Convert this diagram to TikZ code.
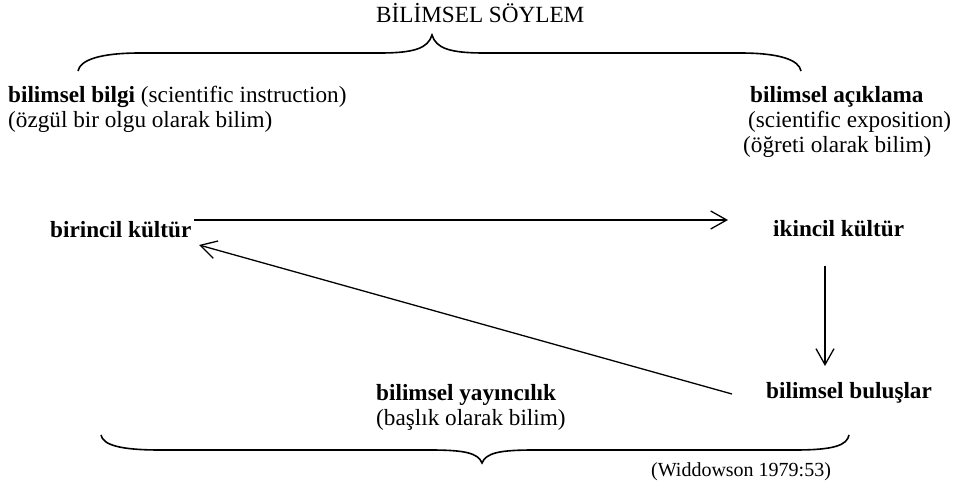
\documentclass[tikz,border=0pt]{standalone}
\usepackage{fontspec}
\setmainfont{Liberation Serif}
\usetikzlibrary{arrows.meta}
\begin{document}
\begin{tikzpicture}[x=1pt,y=-1pt,
  every node/.style={inner sep=0pt, anchor=base west, font=\fontsize{23.2}{25}\selectfont},
  conn/.style={line width=1.3pt, -{Straight Barb[length=16pt,width=18pt,line width=1.3pt]}},
  brace/.style={line width=1.6pt}]
\useasboundingbox (0,0) rectangle (956,486);

% title and its brace
\node (title) at (376,23) {BİLİMSEL SÖYLEM};
\draw[brace] (78,71) .. controls (80,60) and (100,53) .. (140,53)
  -- (380,53) .. controls (415,53) and (428,48) .. (432,35)
  .. controls (436,48) and (449,53) .. (484,53)
  -- (740,53) .. controls (780,53) and (799,60) .. (801,71);

% the two kinds of scientific discourse
\node (bilgi) at (8,103) {\textbf{bilimsel bilgi} (scientific instruction)};
\node (bilgi2) at (8,128) {(özgül bir olgu olarak bilim)};
\node (aciklama) at (750,103) {\textbf{bilimsel açıklama}};
\node (aciklama2) at (748,128) {(scientific exposition)};
\node (aciklama3) at (743,153) {(öğreti olarak bilim)};

% cycle of cultures
\node (birincil) at (50,238) {\textbf{birincil kültür}};
\node (ikincil) at (773,237) {\textbf{ikincil kültür}};
\node (buluslar) at (766,399) {\textbf{bilimsel buluşlar}};
\node (yayin) at (376,400) {\textbf{bilimsel yayıncılık}};
\node (yayin2) at (376,425) {(başlık olarak bilim)};

\coordinate (h1) at (194,220);
\coordinate (h2) at (728,220);
\draw[conn] (h1) -- (h2);
\coordinate (v1) at (825,266);
\coordinate (v2) at (825,366);
\draw[conn] (v1) -- (v2);
\coordinate (d1) at (732,394);
\coordinate (d2) at (199,245);
\draw[conn] (d1) -- (d2);

% bottom brace
\draw[brace] (101,435) .. controls (103,445) and (120,450) .. (160,450)
  -- (430,450) .. controls (465,450) and (478,453) .. (482,463)
  .. controls (486,453) and (499,450) .. (534,450)
  -- (795,450) .. controls (835,450) and (847,445) .. (849,435);

\node[font=\fontsize{20}{22}\selectfont] (src) at (651,476) {(Widdowson 1979:53)};
\end{tikzpicture}
\end{document}
